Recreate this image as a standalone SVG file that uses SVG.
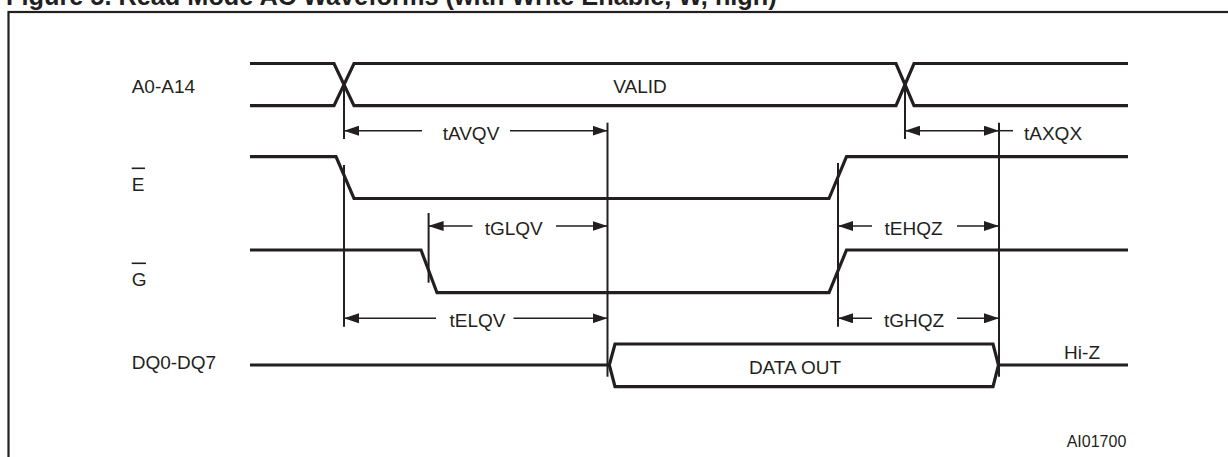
<svg xmlns="http://www.w3.org/2000/svg" width="1228" height="457" viewBox="0 0 1228 457">
<style>
.bg{fill:#ffffff}
.frame{fill:none;stroke:#231f20;stroke-width:2.2}
.sig{fill:none;stroke:#231f20;stroke-width:3.2;stroke-linejoin:miter}
.vl{fill:none;stroke:#231f20;stroke-width:2}
.ar{fill:none;stroke:#231f20;stroke-width:1.5}
.ov{fill:none;stroke:#231f20;stroke-width:1.6}
text{font-family:"Liberation Sans",Arial,sans-serif;fill:#231f20;font-size:19px}
.title{font-weight:bold;font-size:25.3px}
.small{font-size:16px}
.mid{text-anchor:middle}
</style>
<defs>
<marker id="ah" markerUnits="userSpaceOnUse" markerWidth="15" markerHeight="10" refX="15" refY="5" orient="auto-start-reverse" viewBox="0 0 15 10">
<path d="M0,0 L15,5 L0,10 z" fill="#231f20"/>
</marker>
</defs>
<rect class="bg" x="0" y="0" width="1228" height="457"/>
<text class="title" x="6" y="5">Figure 5. Read Mode AC Waveforms (with Write Enable, W, high)</text>
<rect class="frame" x="8.5" y="12" width="1240" height="460"/>

<g id="addr">
<text x="131.7" y="92.7">A0-A14</text>
<path class="sig" d="M250,63.5 H334 L354,105.7 H896 L914,63.5 H1128"/>
<path class="sig" d="M250,105.7 H334 L354,63.5 H896 L914,105.7 H1128"/>
<text class="mid" x="640" y="92.7">VALID</text>
</g>

<g id="E">
<text x="131.7" y="190.7">E</text>
<line class="ov" x1="131.7" y1="168.3" x2="145" y2="168.3"/>
<path class="sig" d="M250,156.7 H336 L354,198.5 H829 L846.5,156.7 H1128"/>
</g>

<g id="G">
<text x="131.7" y="285.5">G</text>
<line class="ov" x1="131.7" y1="263.3" x2="146" y2="263.3"/>
<path class="sig" d="M250,250 H421 L437,292.7 H829 L846.5,250 H1128"/>
</g>

<g id="DQ">
<text x="131.7" y="369.3">DQ0-DQ7</text>
<path class="sig" d="M250,365 H609.3"/>
<path class="sig" d="M609.3,365 L615,344 H993 L998.5,365 L993,386.7 H615 Z"/>
<path class="sig" d="M998.5,365 H1128"/>
<text class="mid" x="795" y="374">DATA OUT</text>
<text x="1100" y="359" style="text-anchor:end">Hi-Z</text>
</g>

<g id="connectors">
<line class="vl" x1="344" y1="84" x2="344" y2="139"/>
<line class="vl" x1="344" y1="165" x2="344" y2="326.7"/>
<line class="vl" x1="905" y1="84" x2="905" y2="139"/>
<line class="vl" x1="607.5" y1="122.7" x2="607.5" y2="376.7"/>
<line class="vl" x1="999" y1="122.7" x2="999" y2="376.7"/>
<line class="vl" x1="428.6" y1="213" x2="428.6" y2="282.7"/>
<line class="vl" x1="838" y1="163" x2="838" y2="326.7"/>

<line class="ar" x1="344" y1="130.7" x2="422" y2="130.7" marker-start="url(#ah)"/>
<line class="ar" x1="510" y1="130.7" x2="607.5" y2="130.7" marker-end="url(#ah)"/>
<text class="mid" x="471" y="139.5">tAVQV</text>

<line class="ar" x1="905" y1="130.7" x2="999" y2="130.7" marker-start="url(#ah)" marker-end="url(#ah)"/>
<line class="ar" x1="999" y1="130.7" x2="1013" y2="130.7"/>
<text x="1024" y="139.5">tAXQX</text>

<line class="ar" x1="428.6" y1="226" x2="472.5" y2="226" marker-start="url(#ah)"/>
<line class="ar" x1="556" y1="226" x2="607.5" y2="226" marker-end="url(#ah)"/>
<text class="mid" x="513.7" y="234.5">tGLQV</text>

<line class="ar" x1="838" y1="226" x2="872" y2="226" marker-start="url(#ah)"/>
<line class="ar" x1="957" y1="226" x2="999" y2="226" marker-end="url(#ah)"/>
<text class="mid" x="913.5" y="234.5">tEHQZ</text>

<line class="ar" x1="344" y1="318.3" x2="436" y2="318.3" marker-start="url(#ah)"/>
<line class="ar" x1="513.5" y1="318.3" x2="607.5" y2="318.3" marker-end="url(#ah)"/>
<text class="mid" x="477.5" y="326.8">tELQV</text>

<line class="ar" x1="838" y1="318.3" x2="872" y2="318.3" marker-start="url(#ah)"/>
<line class="ar" x1="957" y1="318.3" x2="999" y2="318.3" marker-end="url(#ah)"/>
<text class="mid" x="914" y="326.8">tGHQZ</text>
</g>

<text class="small" x="1066.7" y="446.7">AI01700</text>
</svg>
